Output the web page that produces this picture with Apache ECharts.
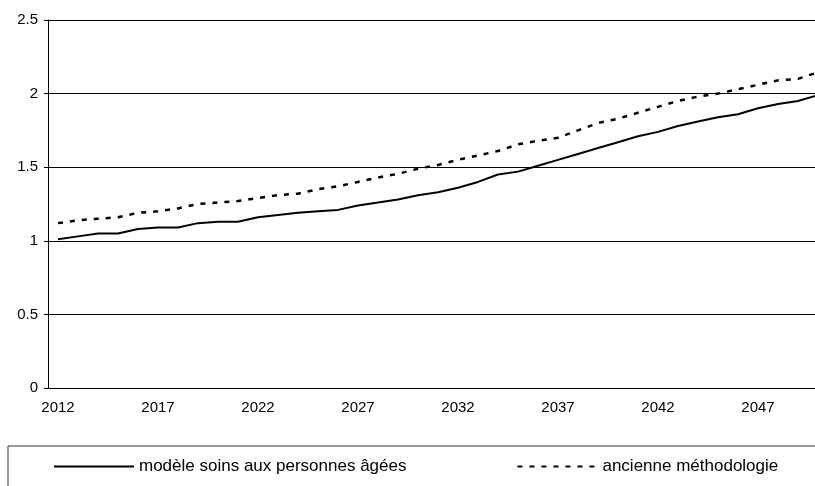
<!DOCTYPE html>
<html>
<head>
<meta charset="utf-8">
<script src="https://cdn.jsdelivr.net/npm/echarts@6/dist/echarts.min.js"></script>
<style>
  html, body { margin: 0; padding: 0; background: #fff; }
  #chart { width: 815px; height: 486px; }
</style>
</head>
<body>
<div id="chart"></div>
<script>
// years 2012 - 2050
var years = [];
for (var y = 2012; y <= 2050; y++) years.push(String(y));

var modeleSoins = [1.01, 1.03, 1.05, 1.05, 1.08, 1.09, 1.09, 1.12, 1.13, 1.13,
  1.16, 1.175, 1.19, 1.20, 1.21, 1.24, 1.26, 1.28, 1.31, 1.33,
  1.36, 1.40, 1.45, 1.47, 1.51, 1.55, 1.59, 1.63, 1.67, 1.71,
  1.74, 1.78, 1.81, 1.84, 1.86, 1.90, 1.93, 1.95, 1.99];

var ancienne = [1.12, 1.14, 1.15, 1.16, 1.19, 1.20, 1.22, 1.25, 1.26, 1.27,
  1.29, 1.31, 1.32, 1.35, 1.37, 1.40, 1.43, 1.455, 1.49, 1.515,
  1.55, 1.58, 1.61, 1.655, 1.68, 1.70, 1.75, 1.80, 1.83, 1.87,
  1.91, 1.95, 1.98, 2.00, 2.03, 2.06, 2.09, 2.10, 2.145];

var seriesNames = ['modèle soins aux personnes âgées', 'ancienne méthodologie'];

var font = 'Liberation Sans, Arial, sans-serif';
var myChart = echarts.init(document.getElementById('chart'));
myChart.setOption({
  animation: false,
  backgroundColor: '#fff',
  // plot runs past the right edge, like the cropped original
  grid: { left: 48, top: 20, width: 780, height: 368, outerBoundsMode: 'none' },
  xAxis: {
    type: 'category',
    data: years,
    boundaryGap: true,
    axisLine: { lineStyle: { color: '#000', width: 1 } },
    axisTick: { interval: 4, length: 4, lineStyle: { color: '#000' } },
    axisLabel: { interval: 4, margin: 12, color: '#000', fontSize: 15, fontFamily: font },
    splitLine: { show: false }
  },
  yAxis: {
    type: 'value',
    min: 0,
    max: 2.5,
    interval: 0.5,
    axisLine: { show: true, lineStyle: { color: '#000', width: 1 } },
    axisTick: { show: true, length: 4, lineStyle: { color: '#000' } },
    axisLabel: { margin: 10, color: '#000', fontSize: 15, fontFamily: font },
    splitLine: { lineStyle: { color: '#000', width: 1 } }
  },
  legend: {
    left: 8,
    top: 446,
    width: 1000,
    itemWidth: 80,
    itemHeight: 14,
    itemGap: 110,
    padding: [12, 80, 40, 45],
    borderColor: '#333',
    borderWidth: 1,
    itemStyle: { opacity: 0 },
    textStyle: { color: '#000', fontSize: 17, fontFamily: font },
    data: seriesNames
  },
  series: [
    {
      name: seriesNames[0],
      type: 'line',
      data: modeleSoins,
      symbol: 'none',
      lineStyle: { color: '#000', width: 2 },
      itemStyle: { color: '#000' }
    },
    {
      name: seriesNames[1],
      type: 'line',
      data: ancienne,
      symbol: 'none',
      lineStyle: { color: '#000', width: 2.5, type: [5, 7] },
      itemStyle: { color: '#000' }
    }
  ]
});
</script>
</body>
</html>
